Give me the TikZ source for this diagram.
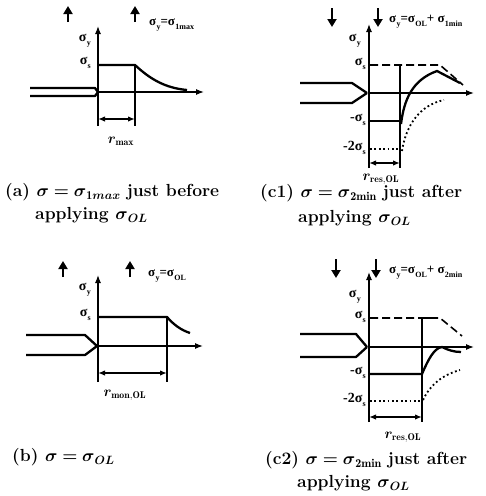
\documentclass[tikz,border=0pt]{standalone}
\usepackage{amsmath,bm}
\usepackage{fontspec}
\newfontfamily\lblfont{Liberation Serif}[BoldFont={Liberation Serif Bold}]
\usetikzlibrary{arrows.meta}
\newcommand\sg[1]{\textbf{σ\kern0.3pt\raisebox{-0.3em}{\fontsize{8}{8}\selectfont #1}}}
\newcommand\cs[1]{\raisebox{-0.22em}{\fontsize{12}{12}\selectfont$#1$}}
\begin{document}
\begin{tikzpicture}[x=1pt,y=-1pt,
 ax/.style={line width=1.2pt,-{Latex[length=8pt,width=6pt]}},
 thk/.style={line width=2.3pt,line join=round},
 vl/.style={line width=1.3pt},
 dsh/.style={line width=1.6pt,dash pattern=on 8pt off 4pt},
 dotl/.style={line width=1.8pt,dash pattern=on 1.8pt off 2.6pt},
 dim/.style={line width=1.4pt,{Latex[length=7pt,width=5.5pt]}-{Latex[length=7pt,width=5.5pt]}},
 ldarr/.style={line width=2pt,-{Triangle[length=8pt,width=9pt]}},
 lbl/.style={inner sep=0pt,font=\lblfont\fontsize{14}{14}\selectfont},
 tlbl/.style={inner sep=0pt,anchor=west,font=\lblfont\fontsize{13}{13}\selectfont},
 rlbl/.style={inner sep=0pt,font=\fontsize{14}{14}\selectfont},
 captxt/.style={inner sep=0pt,anchor=base west,font=\fontsize{17.5}{19}\selectfont\bfseries}]
\useasboundingbox (0,0) rectangle (486,496);

% ---------------- panel (a)
\draw[ax] (98,126) -- (98,26);
\draw[ax] (98,92) -- (204,92);
\draw[thk] (30,88) -- (95,88) -- (98,92);
\draw[thk] (30,96) -- (95,96) -- (98,92);
\draw[thk] (98,65) -- (135,65) .. controls (150,79) and (165,88) .. (187,90);
\draw[vl] (135,65) -- (135,126);
\draw[dim] (98,119) -- (135,119);
\draw[ldarr] (68,22) -- (68,6);
\draw[ldarr] (135,22) -- (135,6);
\node[tlbl] (atop) at (149,25) {\sg{y}\textbf{=}\sg{1max}};
\node[lbl,anchor=east] (asy) at (91,41) {\sg{y}};
\node[lbl,anchor=east] (ass) at (91,63) {\sg{s}};
\node[rlbl] (ar) at (121,141) {$\bm{r}_{\mathbf{max}}$};
\node[captxt] (acap1) at (5,196) {(a) $\bm{\sigma=\sigma}$\cs{\mathbf{1}\bm{max}} just before};
\node[captxt] (acap2) at (35,219) {applying $\bm{\sigma}$\cs{\bm{OL}}};

% ---------------- panel (c1)
\draw[ax] (369,168) -- (369,24);
\draw[ax] (369,93) -- (474,93);
\draw[thk] (300,83) -- (352,83) -- (367,93);
\draw[thk] (300,103) -- (352,103) -- (367,93);
\draw[dsh] (370,65) -- (440,65) -- (463,85);
\draw[vl] (400,65) -- (400,168);
\draw[thk] (369,121) -- (400,121);
\draw[thk] (401,124) .. controls (404,100) and (412,80) .. (437,71) -- (460,83);
\draw[dotl] (370,149) -- (400,149);
\draw[dotl] (402,151) .. controls (406,125) and (420,105) .. (444,100);
\draw[dim] (369,163) -- (400,163);
\draw[ldarr] (332,8) -- (332,27);
\draw[ldarr] (378,8) -- (378,27);
\node[tlbl] (c1top) at (389,22) {\sg{y}\textbf{=}\sg{OL}\textbf{+ }\sg{1min}};
\node[lbl,anchor=east] (c1sy) at (361,41) {\sg{y}};
\node[lbl,anchor=east] (c1ss) at (366,64) {\sg{s}};
\node[lbl,anchor=east] (c1ms) at (366,120) {\textbf{-}\sg{s}};
\node[lbl,anchor=east] (c1m2) at (366,148) {\textbf{-2}\sg{s}};
\node[rlbl] (c1r) at (381,179) {$\bm{r}_{\mathbf{res,OL}}$};
\node[captxt] (c1cap1) at (260,197) {(c1) $\bm{\sigma=\sigma}$\cs{\mathbf{2min}} just after};
\node[captxt] (c1cap2) at (298,222) {applying $\bm{\sigma}$\cs{\bm{OL}}};

% ---------------- panel (b)
\draw[ax] (98,382) -- (98,275);
\draw[ax] (98,346) -- (203,346);
\draw[thk] (26,335) -- (85,335) -- (97,346);
\draw[thk] (26,355) -- (85,355) -- (97,346);
\draw[thk] (98,317) -- (167,317) .. controls (174,325) and (181,330) .. (190,333);
\draw[vl] (167,317) -- (167,382);
\draw[dim] (98,373) -- (167,373);
\draw[ldarr] (63,277) -- (63,261);
\draw[ldarr] (130,277) -- (130,261);
\node[tlbl] (btop) at (148,276) {\sg{y}\textbf{=}\sg{OL}};
\node[lbl,anchor=east] (bsy) at (91,290) {\sg{y}};
\node[lbl,anchor=east] (bss) at (91,315) {\sg{s}};
\node[rlbl] (br) at (125,395) {$\bm{r}_{\mathbf{mon,OL}}$};
\node[captxt] (bcap) at (12,461) {(b) $\bm{\sigma=\sigma}$\cs{\bm{OL}}};

% ---------------- panel (c2)
\draw[ax] (369,422) -- (369,272);
\draw[ax] (369,347) -- (474,347);
\draw[thk] (300,334) -- (356,334) -- (367,347);
\draw[thk] (300,357) -- (356,357) -- (367,347);
\draw[dsh] (370,318) -- (440,318) -- (462,336);
\draw[vl] (422,318) -- (422,422);
\draw[vl] (422,318) -- (438,318);
\draw[thk] (369,374) -- (422,374) .. controls (428,360) and (434,348) .. (442,347) .. controls (448,350) and (454,352) .. (461,352);
\draw[dotl] (370,401) -- (422,401);
\draw[dotl] (423,400) .. controls (430,385) and (442,375) .. (460,370);
\draw[dim] (369,417) -- (422,417);
\draw[ldarr] (336,259) -- (336,278);
\draw[ldarr] (376,259) -- (376,278);
\node[tlbl] (c2top) at (389,273) {\sg{y}\textbf{=}\sg{OL}\textbf{+ }\sg{2min}};
\node[lbl,anchor=east] (c2sy) at (361,297) {\sg{y}};
\node[lbl,anchor=east] (c2ss) at (366,317) {\sg{s}};
\node[lbl,anchor=east] (c2ms) at (366,373) {\textbf{-}\sg{s}};
\node[lbl,anchor=east] (c2m2) at (366,400) {\textbf{-2}\sg{s}};
\node[rlbl] (c2r) at (403,437) {$\bm{r}_{\mathbf{res,OL}}$};
\node[captxt] (c2cap1) at (265,464) {(c2) $\bm{\sigma=\sigma}$\cs{\mathbf{2min}} just after};
\node[captxt] (c2cap2) at (297,487) {applying $\bm{\sigma}$\cs{\bm{OL}}};
\end{tikzpicture}
\end{document}
